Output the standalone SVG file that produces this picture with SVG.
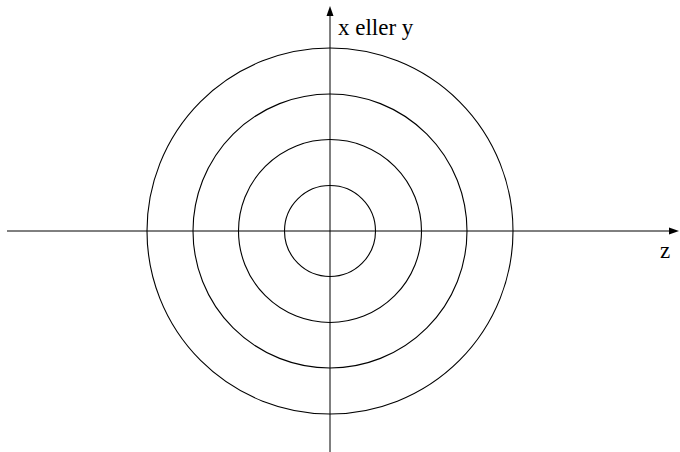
<svg xmlns="http://www.w3.org/2000/svg" width="680" height="452" viewBox="0 0 680 452">
<style>
.axis{stroke:#000;stroke-width:1;fill:none}
.ring{stroke:#000;stroke-width:1.1;fill:none}
.lbl{font-size:23px;fill:#000}
</style>
<rect width="680" height="452" fill="#fff"/>
<g id="rings">
<circle class="ring" cx="330" cy="231" r="45.5"/>
<circle class="ring" cx="330" cy="231" r="91.5"/>
<circle class="ring" cx="330" cy="231" r="137"/>
<circle class="ring" cx="330" cy="231" r="183"/>
</g>
<g id="connectors">
<line class="axis" x1="7" y1="231" x2="672" y2="231"/>
<polygon points="679,231 669,227.5 669,234.5" fill="#000"/>
<line class="axis" x1="330" y1="452" x2="330" y2="14"/>
<polygon points="330,6 326.5,16 333.5,16" fill="#000"/>
</g>
<g id="labels" font-family="Liberation Serif, Times New Roman, serif">
<text class="lbl" x="338" y="35">x eller y</text>
<text class="lbl" x="660" y="258">z</text>
</g>
</svg>
